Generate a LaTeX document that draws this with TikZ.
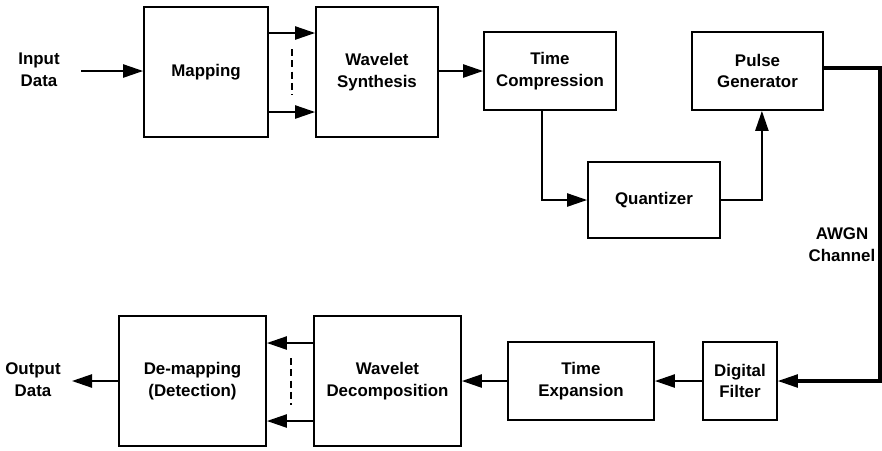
\documentclass[tikz,border=0pt]{standalone}
\usepackage{fontspec}
\setmainfont{Liberation Sans}
\usetikzlibrary{arrows.meta}
\begin{document}
\begin{tikzpicture}[x=0.025cm,y=-0.025cm,
  blk/.style={draw,line width=1.3pt,align=center,inner sep=0pt,
    font=\fontsize{12}{15.5}\selectfont\bfseries},
  lbl/.style={align=center,inner sep=0pt,font=\fontsize{12}{15.5}\selectfont\bfseries},
  arr/.style={line width=1.3pt,-{Triangle[length=0.5cm,width=0.33cm]}},
  chan/.style={line width=2.6pt},
  dsh/.style={line width=0.8pt,dash pattern=on 5pt off 3pt}]
\useasboundingbox (0,0) rectangle (882,450);
% top row
\node[blk,minimum width=3.1cm,minimum height=3.25cm] (map) at (206,72) {Mapping};
\node[blk,minimum width=3.05cm,minimum height=3.25cm] (syn) at (377,72) {Wavelet\\Synthesis};
\node[blk,minimum width=3.3cm,minimum height=1.95cm] (tc) at (550,71) {Time\\Compression};
\node[blk,minimum width=3.275cm,minimum height=1.95cm] (pg) at (757.5,71) {Pulse\\Generator};
\node[blk,minimum width=3.3cm,minimum height=1.9cm] (q) at (654,200) {Quantizer};
% bottom row
\node[blk,minimum width=3.675cm,minimum height=3.25cm] (dm) at (192.5,381) {De-mapping\\(Detection)};
\node[blk,minimum width=3.675cm,minimum height=3.25cm] (wd) at (387.5,381) {Wavelet\\Decomposition};
\node[blk,minimum width=3.65cm,minimum height=1.95cm] (te) at (581,381) {Time\\Expansion};
\node[blk,minimum width=1.85cm,minimum height=1.95cm] (df) at (740,381) {Digital\\Filter};
% labels
\node[lbl] (inp) at (39,70) {Input\\Data};
\node[lbl] (outp) at (33,380) {Output\\Data};
\node[lbl] (awgn) at (842,245) {AWGN\\Channel};
\coordinate (inS) at (81,71);
\coordinate (outE) at (72,381);
\coordinate (c1) at (880,68);
% connectors
\draw[arr] (inS) -- (map.west |- inS);
\draw[arr] (map.east |- 0,33) -- (syn.west |- 0,33);
\draw[arr] (map.east |- 0,112) -- (syn.west |- 0,112);
\draw[dsh] (292,49) -- (292,95);
\draw[arr] (syn.east |- tc.west) -- (tc.west);
\draw[arr] ([xshift=-0.2cm]tc.south) |- (q.west);
\draw[arr] (q.east) -| ([xshift=0.11cm]pg.south);
\draw[chan] (pg.east |- c1) -- (c1) -- (c1 |- df.east) -- ([xshift=0.45cm]df.east);
\draw[arr] (c1 |- df.east) -- (df.east);
\draw[arr] (df.west) -- (te.east);
\draw[arr] (te.west) -- (wd.east);
\draw[arr] (wd.west |- 0,343) -- (dm.east |- 0,343);
\draw[arr] (wd.west |- 0,421) -- (dm.east |- 0,421);
\draw[dsh] (291,358) -- (291,405);
\draw[arr] (dm.west) -- (outE);
\end{tikzpicture}
\end{document}
